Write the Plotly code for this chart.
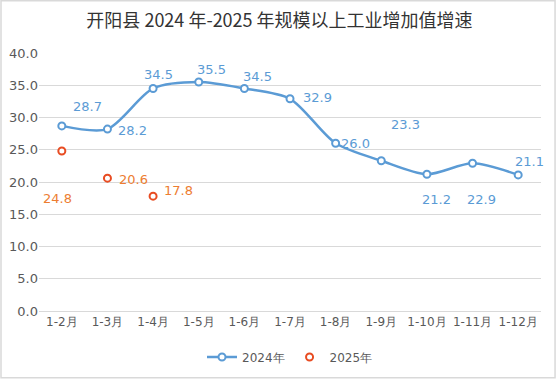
import plotly.graph_objects as go

months = ["1-2月", "1-3月", "1-4月", "1-5月", "1-6月", "1-7月", "1-8月", "1-9月", "1-10月", "1-11月", "1-12月"]
v2024 = [28.7, 28.2, 34.5, 35.5, 34.5, 32.9, 26.0, 23.3, 21.2, 22.9, 21.1]
months2025 = ["1-2月", "1-3月", "1-4月"]
v2025 = [24.8, 20.6, 17.8]

# label pixel offsets (dx right, dy down) relative to each point
off2024 = [(26, -19), (25, 1), (5, -14), (13, -13), (13, -12), (27, -1),
           (20, 0), (24, -36), (10, 25), (9, 36), (11, -13)]
off2025 = [(-4, 47), (26, 1), (25, -6)]

fig = go.Figure()
fig.add_trace(go.Scatter(
    x=months, y=v2024, name="2024年", mode="lines+markers", cliponaxis=False,
    line=dict(color="#5b9bd5", width=2.5, shape="spline", smoothing=0.8),
    marker=dict(symbol="circle", size=7, color="white", line=dict(color="#5b9bd5", width=2)),
))
fig.add_trace(go.Scatter(
    x=months2025, y=v2025, name="2025年", mode="markers", cliponaxis=False,
    marker=dict(symbol="circle", size=7, color="white", line=dict(color="#e84c22", width=2)),
))

annotations = []
for xs, ys, offs, col in [(months, v2024, off2024, "#5b9bd5"), (months2025, v2025, off2025, "#ed7d31")]:
    for xv, yv, (dx, dy) in zip(xs, ys, offs):
        annotations.append(dict(x=xv, y=yv, xref="x", yref="y", text=f"{yv:.1f}", showarrow=False,
                                xshift=dx, yshift=-dy,
                                font=dict(color=col, size=13, family="DejaVu Sans")))

fig.update_layout(
    width=559, height=381, autosize=False,
    paper_bgcolor="white", plot_bgcolor="white",
    margin=dict(l=39, r=18, t=53, b=70, autoexpand=False),
    title=dict(text="开阳县 2024 年-2025 年规模以上工业增加值增速", x=0.5, xanchor="center",
               y=0.945, yanchor="middle",
               font=dict(family="Noto Sans CJK SC", size=18, color="#333333")),
    font=dict(family="DejaVu Sans", color="#595959", size=12),
    showlegend=True,
    legend=dict(orientation="h", x=0.5, xanchor="center", y=0.063, yanchor="middle", yref="container",
                font=dict(size=12, color="#595959")),
    annotations=annotations,
    shapes=[dict(type="rect", xref="paper", yref="paper", x0=-0.0757, x1=1.028, y0=-0.259, y1=1.203,
                 line=dict(color="#d9d9d9", width=1.5))],
)
fig.update_xaxes(type="category", range=[-0.5, len(months) - 0.5], showgrid=False, showline=True,
                 linecolor="#d9d9d9", ticks="", automargin=False, tickfont=dict(size=12, color="#595959"))
fig.update_yaxes(range=[0, 40], dtick=5, tickformat=".1f", showgrid=True, gridcolor="#d9d9d9",
                 zeroline=False, showline=False, ticks="", automargin=False,
                 tickfont=dict(size=13, color="#595959"))

fig.write_html("out.html", config={"displayModeBar": False, "responsive": False},
               post_script="document.body.style.margin='0';document.body.style.overflow='hidden';")
